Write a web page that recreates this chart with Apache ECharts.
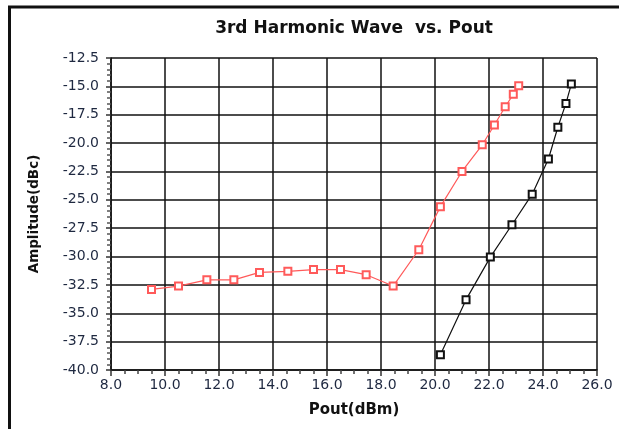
<!DOCTYPE html>
<html>
<head>
<meta charset="utf-8">
<script src="https://cdn.jsdelivr.net/npm/echarts@6/dist/echarts.min.js"></script>
<style>html,body{margin:0;padding:0;background:#fff}#c{width:619px;height:429px}</style>
</head>
<body>
<div id="c"></div>
<script>
var redX = [9.5, 10.5, 11.55, 12.55, 13.5, 14.55, 15.5, 16.5, 17.45, 18.45, 19.4, 20.2, 21.0, 21.75, 22.2, 22.6, 22.9, 23.1];
var redY = [-32.9, -32.6, -32.05, -32.05, -31.4, -31.3, -31.15, -31.15, -31.6, -32.6, -29.4, -25.6, -22.5, -20.15, -18.4, -16.8, -15.7, -14.95];
var blackX = [20.2, 21.15, 22.05, 22.85, 23.6, 24.2, 24.55, 24.85, 25.05];
var blackY = [-38.65, -33.8, -30.05, -27.2, -24.5, -21.4, -18.6, -16.5, -14.8];
var titleText = '3rd Harmonic Wave  vs. Pout';
var xName = 'Pout(dBm)';
var yName = 'Amplitude(dBc)';

function pairs(xs, ys) { return xs.map(function (x, i) { return [x, ys[i]]; }); }

var chart = echarts.init(document.getElementById('c'), null, {renderer: 'canvas'});
var font = 'Verdana, "DejaVu Sans", sans-serif';
chart.setOption({
  animation: false,
  backgroundColor: '#fff',
  title: {
    text: titleText, left: 349, top: 15, textAlign: 'center',
    textStyle: {fontFamily: font, fontWeight: 'bold', fontSize: 17, color: '#111'}
  },
  grid: {left: 111, right: 22, top: 58, bottom: 59},
  xAxis: {
    type: 'value', min: 8, max: 26, interval: 2,
    name: xName, nameLocation: 'middle', nameGap: 33,
    nameTextStyle: {fontFamily: font, fontWeight: 'bold', fontSize: 15, color: '#111'},
    axisLine: {show: true, lineStyle: {color: '#111', width: 1.5}},
    axisTick: {show: true, length: 6, lineStyle: {color: '#333', width: 1.5}},
    minorTick: {show: true, splitNumber: 4, length: 4, lineStyle: {color: '#444', width: 1.5}},
    axisLabel: {fontFamily: font, fontSize: 14, color: '#1e2840', margin: 8, formatter: function (v) { return v.toFixed(1); }},
    splitLine: {show: true, lineStyle: {color: '#111', width: 1.5}}
  },
  yAxis: {
    type: 'value', min: -40, max: -12.5, interval: 2.5,
    name: yName, nameLocation: 'middle', nameGap: 70,
    nameTextStyle: {fontFamily: font, fontWeight: 'bold', fontSize: 13.5, color: '#111'},
    axisLine: {show: true, lineStyle: {color: '#111', width: 1.5}},
    axisTick: {show: true, length: 5, lineStyle: {color: '#333', width: 1.5}},
    minorTick: {show: true, splitNumber: 5, length: 4, lineStyle: {color: '#555', width: 1.5}},
    axisLabel: {fontFamily: font, fontSize: 14, color: '#1e2840', margin: 12, formatter: function (v) { return v.toFixed(1); }},
    splitLine: {show: true, lineStyle: {color: '#111', width: 1.5}}
  },
  series: [
    {
      type: 'line', data: pairs(redX, redY), symbol: 'emptyRect', symbolSize: 7,
      lineStyle: {color: '#ff5a5a', width: 1.2}, itemStyle: {color: '#ff5a5a', borderWidth: 1.2}
    },
    {
      type: 'line', data: pairs(blackX, blackY), symbol: 'emptyRect', symbolSize: 7,
      lineStyle: {color: '#111', width: 1.2}, itemStyle: {color: '#111', borderWidth: 1.2}
    }
  ],
  graphic: [
    {type: 'line', shape: {x1: 8, y1: 7, x2: 619, y2: 7}, style: {stroke: '#111', lineWidth: 3}},
    {type: 'line', shape: {x1: 9.5, y1: 6, x2: 9.5, y2: 429}, style: {stroke: '#111', lineWidth: 3}}
  ]
});
</script>
</body>
</html>
